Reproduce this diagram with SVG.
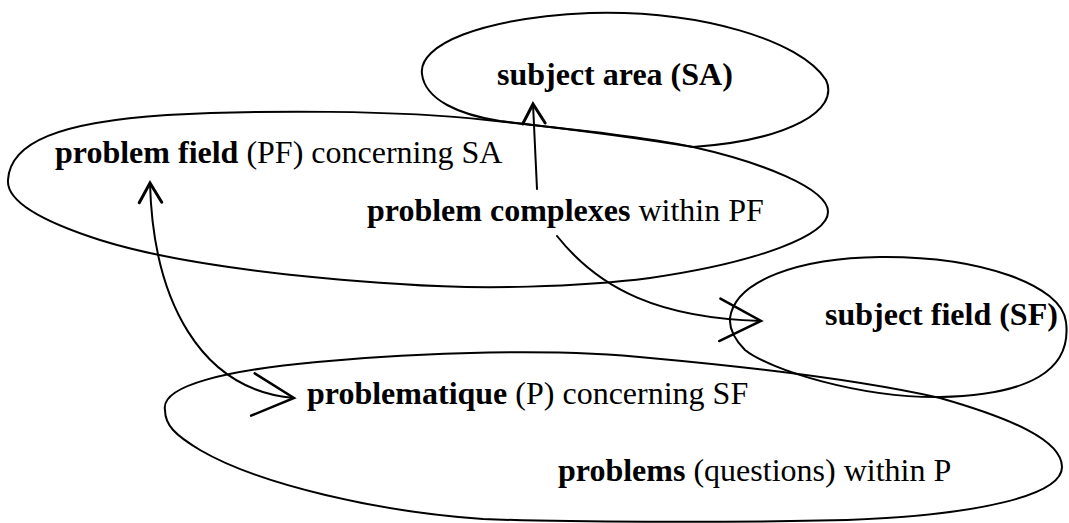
<svg xmlns="http://www.w3.org/2000/svg" width="1069" height="523" viewBox="0 0 1069 523">
<style>
  .shape { fill: none; stroke: #000; stroke-width: 2; stroke-linejoin: round; }
  .conn { fill: none; stroke: #000; stroke-width: 2; stroke-linecap: round; }
  .lbl { font-family: "Liberation Serif", "Times New Roman", serif; font-size: 32px; fill: #000; }
  .b { font-weight: bold; }
</style>
<defs>
  <marker id="smallHead" markerUnits="userSpaceOnUse" markerWidth="30" markerHeight="30" viewBox="-16 -10 20 20" refX="0" refY="0" orient="auto-start-reverse">
    <path d="M-13,-7.5 L0,0 L-13,7.5" fill="none" stroke="#000" stroke-width="2" stroke-linecap="round" stroke-linejoin="miter"/>
  </marker>
  <marker id="bigHead" markerUnits="userSpaceOnUse" markerWidth="50" markerHeight="50" viewBox="-36 -20 40 40" refX="0" refY="0" orient="auto-start-reverse">
    <path d="M-33,-17 L0,0 L-33,17" fill="none" stroke="#000" stroke-width="2" stroke-linecap="round" stroke-linejoin="miter"/>
  </marker>
</defs>
<rect width="1069" height="523" fill="#fff"/>

<g id="node-problem-field">
  <path class="shape" d="M8,180 C10,142 60,122 167,115 C260,110 400,110 487,120 C560,128 640,136 693,147 C760,162 828,188 828,212 C828,235 760,262 650,278 C580,287 480,290 400,284 C280,276 170,262 100,240 C50,224 6,204 8,180 Z"/>
  <text class="lbl" x="55" y="163"><tspan class="b">problem field</tspan> (PF) concerning SA</text>
</g>

<g id="node-subject-area">
  <path class="shape" d="M422,74 C418,45 480,18 590,13 C700,10 800,40 826,80 C840,110 790,140 693,147 C640,138 560,128 500,121 C460,115 425,100 422,74 Z"/>
  <text class="lbl b" x="497" y="85">subject area (SA)</text>
</g>

<g id="node-problem-complexes">
  <text class="lbl" x="367" y="221"><tspan class="b">problem complexes</tspan> within PF</text>
</g>

<g id="node-subject-field">
  <path class="shape" d="M730,318 C735,280 800,258 880,257 C980,256 1062,285 1066,322 C1072,370 1030,395 940,397 C860,398 770,370 745,350 C735,340 729,330 730,318 Z"/>
  <text class="lbl b" x="825" y="325">subject field (SF)</text>
</g>

<g id="node-problematique">
  <path class="shape" d="M165,410 C160,385 230,370 317,362 C420,352 560,348 650,358 C760,368 860,380 940,398 C1010,418 1062,440 1062,467 C1062,495 980,515 847,520 C720,523 560,522 483,519 C380,512 260,485 200,450 C175,435 165,425 165,410 Z"/>
  <text class="lbl" x="307" y="404"><tspan class="b">problematique</tspan> (P) concerning SF</text>
</g>

<g id="node-problems">
  <text class="lbl" x="558" y="481"><tspan class="b">problems</tspan> (questions) within P</text>
</g>

<g id="connectors">
  <path class="conn" d="M537,189 L533,104" marker-end="url(#smallHead)"/>
  <path class="conn" d="M150,183 C153,300 200,390 294,398" marker-start="url(#smallHead)" marker-end="url(#bigHead)"/>
  <path class="conn" d="M557,236 C600,290 660,318 761,321" marker-end="url(#bigHead)"/>
</g>
</svg>
